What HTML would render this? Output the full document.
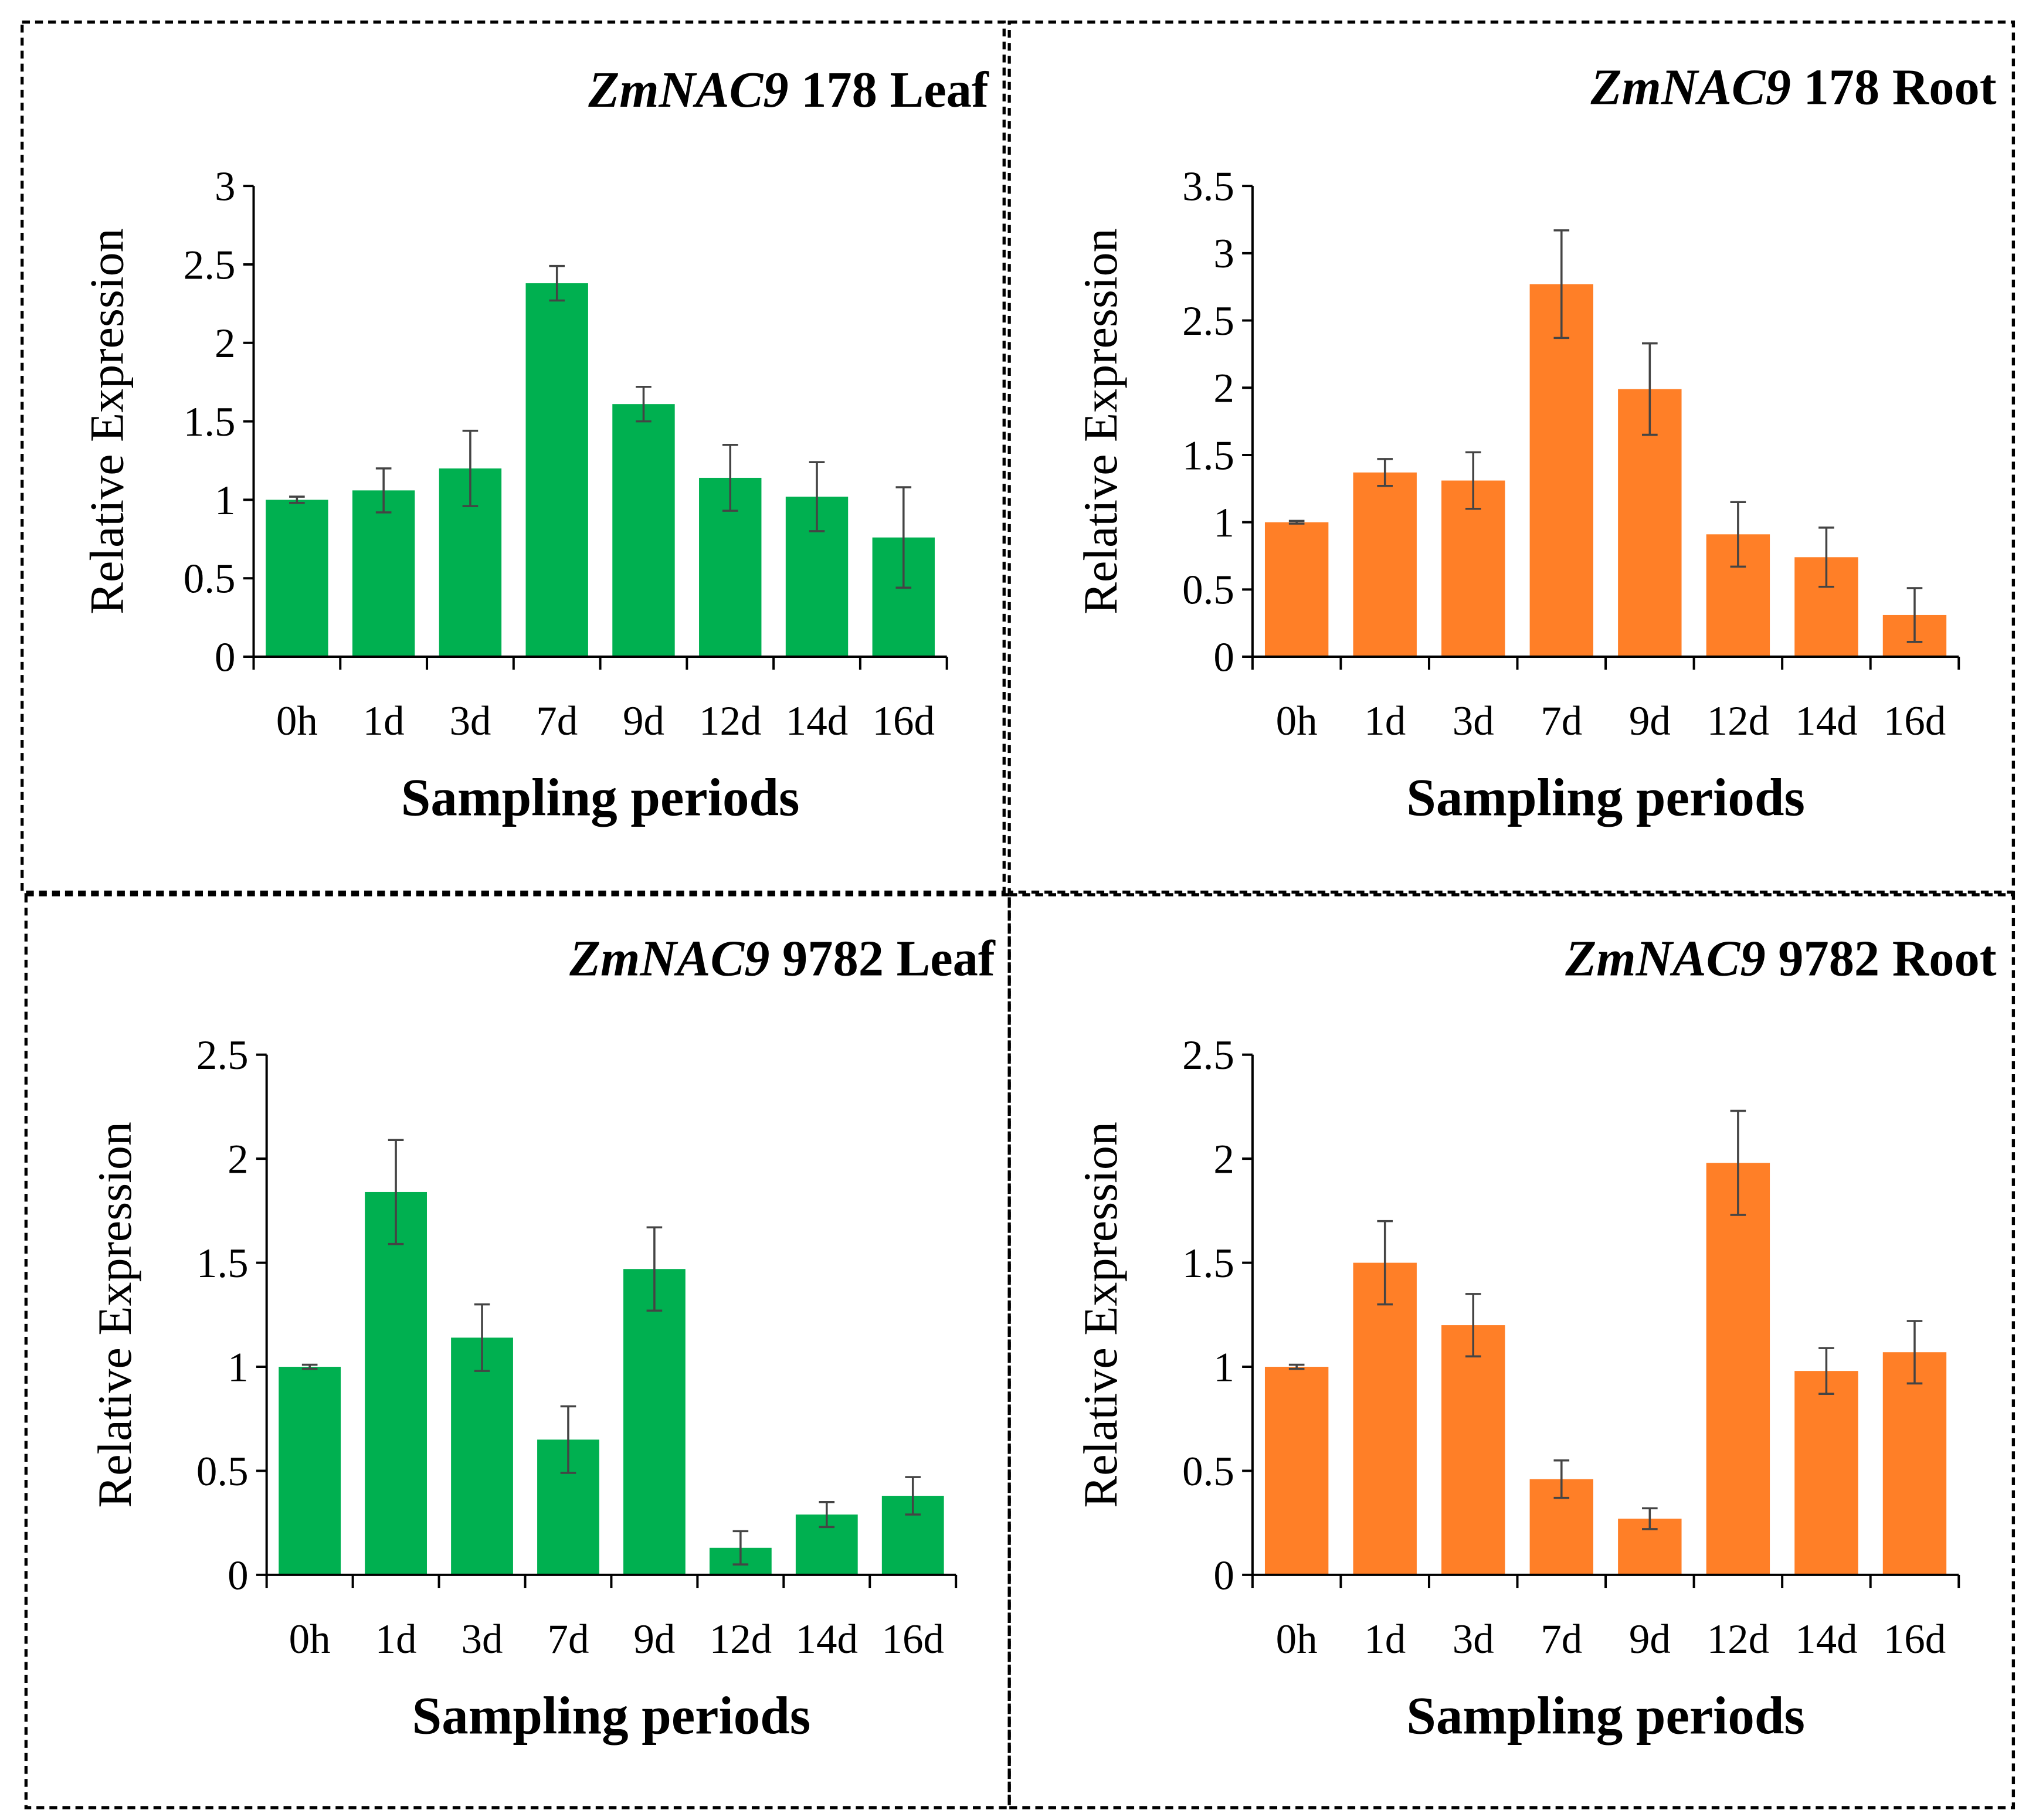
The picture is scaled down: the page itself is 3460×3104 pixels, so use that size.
<!DOCTYPE html>
<html><head><meta charset="utf-8">
<style>
html,body{margin:0;padding:0;background:#fff;}
svg{display:block;font-family:"Liberation Serif",serif;}
</style></head>
<body>
<svg id="fig" width="3460" height="3104" viewBox="0 0 1560 1399.5" preserveAspectRatio="none" xmlns="http://www.w3.org/2000/svg">
<rect x="0" y="0" width="1560" height="1400" fill="#fff"/>
<g fill="none" stroke="#000" stroke-width="2.4" stroke-dasharray="6,4">
<rect x="17" y="17" width="755" height="669"/>
<rect x="776" y="17" width="772" height="669"/>
<rect x="20" y="688" width="756" height="702"/>
<rect x="776" y="688" width="772" height="702"/>
</g>
<g id="charts"></g>
</svg>
<script>
const categories = ["0h","1d","3d","7d","9d","12d","14d","16d"];
const leaf178Values = [1.0,1.06,1.2,2.38,1.61,1.14,1.02,0.76];
const leaf178Errors = [0.02,0.14,0.24,0.11,0.11,0.21,0.22,0.32];
const root178Values = [1.0,1.37,1.31,2.77,1.99,0.91,0.74,0.31];
const root178Errors = [0.01,0.1,0.21,0.4,0.34,0.24,0.22,0.2];
const leaf9782Values = [1.0,1.84,1.14,0.65,1.47,0.13,0.29,0.38];
const leaf9782Errors = [0.01,0.25,0.16,0.16,0.2,0.08,0.06,0.09];
const root9782Values = [1.0,1.5,1.2,0.46,0.27,1.98,0.98,1.07];
const root9782Errors = [0.01,0.2,0.15,0.09,0.05,0.25,0.11,0.15];
const ticks3 = ["0","0.5","1","1.5","2","2.5","3"];
const ticks35 = ["0","0.5","1","1.5","2","2.5","3","3.5"];
const ticks25 = ["0","0.5","1","1.5","2","2.5"];

const NS = "http://www.w3.org/2000/svg";
const root = document.getElementById("charts");
function mk(tag, attrs, parent){const e=document.createElementNS(NS,tag);for(const k in attrs)e.setAttribute(k,attrs[k]);parent.appendChild(e);return e;}

const panels = [
 {id:"leaf-178",vals:leaf178Values,errs:leaf178Errors,ticks:ticks3,max:3,x0:195,x1:728,y0:505,yTop:143,color:"#00B050",title:"178 Leaf",tx:760,ty:82,ytx:86},
 {id:"root-178",vals:root178Values,errs:root178Errors,ticks:ticks35,max:3.5,x0:963,x1:1506,y0:505,yTop:143,color:"#FF7F27",title:"178 Root",tx:1535,ty:80,ytx:850},
 {id:"leaf-9782",vals:leaf9782Values,errs:leaf9782Errors,ticks:ticks25,max:2.5,x0:205,x1:735,y0:1211,yTop:811,color:"#00B050",title:"9782 Leaf",tx:765,ty:750,ytx:92},
 {id:"root-9782",vals:root9782Values,errs:root9782Errors,ticks:ticks25,max:2.5,x0:963,x1:1506,y0:1211,yTop:811,color:"#FF7F27",title:"9782 Root",tx:1535,ty:750,ytx:850}
];

panels.forEach(p=>{
 const g = mk("g",{},root);
 
 
 const yS = v => p.y0 - (v/p.max)*(p.y0-p.yTop);
 const band = (p.x1-p.x0)/categories.length;
 const xS = i => p.x0 + band*i;
 const bw = band*0.72;
 p.vals.forEach((v,i)=>{
  const r = mk("rect",{x:xS(i)+(band-bw)/2,y:yS(v),width:bw,height:p.y0-yS(v),fill:p.color},g);
  
  
  const cx = xS(i)+band/2, hi=yS(v+p.errs[i]), lo=yS(v-p.errs[i]);
  const eb = mk("path",{d:`M${cx},${hi}V${lo}M${cx-6},${hi}H${cx+6}M${cx-6},${lo}H${cx+6}`,stroke:"#444",fill:"none","stroke-width":1.6},g);
  
  
 });
 const ax = mk("path",{d:`M${p.x0},${p.yTop}V${p.y0}H${p.x1}`,stroke:"#000",fill:"none","stroke-width":1.8},g);
 
 
 p.ticks.forEach(t=>{
  const y=yS(parseFloat(t));
  mk("line",{x1:p.x0-8,x2:p.x0,y1:y,y2:y,stroke:"#000","stroke-width":1.8},g);
  const tl = mk("text",{x:p.x0-14,y:y+11,"text-anchor":"end","font-size":32},g);
  tl.textContent=t;
  
  
 });
 categories.forEach((c,i)=>{
  const x=xS(i);
  mk("line",{x1:x,x2:x,y1:p.y0,y2:p.y0+10,stroke:"#000","stroke-width":1.8},g);
  const cl = mk("text",{x:x+band/2,y:p.y0+60,"text-anchor":"middle","font-size":32},g);
  cl.textContent=c;
  
  
 });
 mk("line",{x1:p.x1,x2:p.x1,y1:p.y0,y2:p.y0+10,stroke:"#000","stroke-width":1.8},g);
 const xt = mk("text",{x:(p.x0+p.x1)/2,y:p.y0+122,"text-anchor":"middle","font-size":41,"font-weight":"bold"},g);
 xt.textContent="Sampling periods";
 
 
 const yc=(p.y0+p.yTop)/2;
 const yt = mk("text",{x:p.ytx,y:yc,"text-anchor":"middle","font-size":37,transform:`rotate(-90 ${p.ytx} ${yc})`,"dominant-baseline":"middle"},g);
 yt.textContent="Relative Expression";
 
 
 const tt = mk("text",{x:p.tx,y:p.ty,"text-anchor":"end","font-size":39,"font-weight":"bold"},g);
 const ts = mk("tspan",{"font-style":"italic"},tt); ts.textContent="ZmNAC9";
 const ts2 = mk("tspan",{},tt); ts2.textContent=" "+p.title;
 
 
});
</script>
</body></html>
